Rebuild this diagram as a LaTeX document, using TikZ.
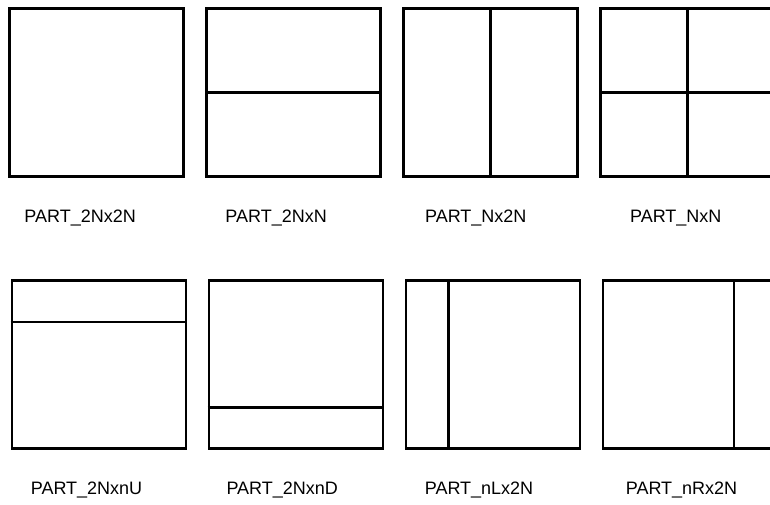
\documentclass[tikz,border=0pt]{standalone}
\usepackage{fontspec}
\setmainfont{Liberation Sans}
\usepackage{tikz}
\usetikzlibrary{positioning,calc}
\tikzset{
  cu/.style={draw, line width=2pt, minimum width=130.5pt, minimum height=126pt, inner sep=0pt},
  cut/.style={line width=2pt},
  tag/.style={inner sep=0pt, font=\fontsize{13.5pt}{16pt}\selectfont}
}
\begin{document}
\begin{tikzpicture}[x=0.75pt, y=-0.75pt, node distance=15.25pt]
    \useasboundingbox (0,0) rectangle (770,504);
    \clip (0,0) rectangle (770,504);
    % first row
    \node[cu] (sq) at (96.5,92.5) {};
    \node[cu, right=of sq] (hor) {};
    \node[cu, right=of hor] (ver) {};
    \node[cu, right=of ver] (quad) {};
    % second row
    \node[cu, below=76pt of sq, xshift=1.8pt] (up) {};
    \node[cu, right=of up] (down) {};
    \node[cu, right=of down] (left) {};
    \node[cu, right=of left] (rght) {};
    % partition lines
    \draw[cut] (hor.west) -- (hor.east);
    \draw[cut] (ver.north) -- (ver.south);
    \draw[cut] (quad.west) -- (quad.east);
    \draw[cut] (quad.north) -- (quad.south);
    \draw[cut] ($(up.north west)!0.25!(up.south west)$) -- ($(up.north east)!0.25!(up.south east)$);
    \draw[cut] ($(down.north west)!0.75!(down.south west)$) -- ($(down.north east)!0.75!(down.south east)$);
    \draw[cut] ($(left.north west)!0.25!(left.north east)$) -- ($(left.south west)!0.25!(left.south east)$);
    \draw[cut] ($(rght.north west)!0.75!(rght.north east)$) -- ($(rght.south west)!0.75!(rght.south east)$);
    % names
    \node[tag, below right=24pt and 12pt of sq.south west] (tsq) {PART\_2Nx2N};
    \node[tag, below right=24pt and 15pt of hor.south west] (thor) {PART\_2NxN};
    \node[tag, below right=24pt and 17pt of ver.south west] (tver) {PART\_Nx2N};
    \node[tag, below right=24pt and 23pt of quad.south west] (tquad) {PART\_NxN};
    \node[tag, below right=24pt and 15pt of up.south west] (tup) {PART\_2NxnU};
    \node[tag, below right=24pt and 14pt of down.south west] (tdown) {PART\_2NxnD};
    \node[tag, below right=24pt and 15pt of left.south west] (tleft) {PART\_nLx2N};
    \node[tag, below right=24pt and 18pt of rght.south west] (trght) {PART\_nRx2N};
\end{tikzpicture}
\end{document}
